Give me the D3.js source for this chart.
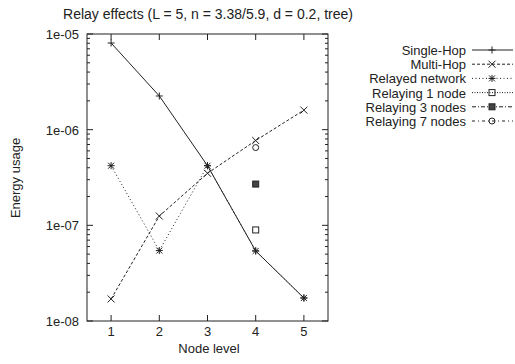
<!DOCTYPE html>
<html><head><meta charset="utf-8">
<script src="https://cdn.jsdelivr.net/npm/d3@7"></script>
<style>body{margin:0;background:#fff}svg{display:block}text{font-family:"Liberation Sans",Arial,sans-serif;fill:#222}</style>
</head><body>
<script>
const levels = [1, 2, 3, 4, 5];
const singleHop = [8.05e-6, 2.25e-6, 4.2e-7, 5.4e-8, 1.74e-8];
const multiHop = [1.7e-8, 1.25e-7, 3.5e-7, 7.7e-7, 1.6e-6];
const relayedNetwork = [4.2e-7, 5.45e-8, 4.2e-7, 5.4e-8, 1.74e-8];
const relaying1Levels = [4], relaying1 = [8.95e-8];
const relaying3Levels = [4], relaying3 = [2.7e-7];
const relaying7Levels = [4], relaying7 = [6.5e-7];
const yTickLabels = ["1e-08", "1e-07", "1e-06", "1e-05"];
const yTickValues = [1e-8, 1e-7, 1e-6, 1e-5];
const seriesNames = ["Single-Hop", "Multi-Hop", "Relayed network", "Relaying 1 node", "Relaying 3 nodes", "Relaying 7 nodes"];

const W = 515, H = 364;
const m = {l: 87, r: 328, t: 34, b: 321};
const svg = d3.select("body").append("svg").attr("width", W).attr("height", H);
const x = d3.scaleLinear().domain([0.5, 5.5]).range([m.l, m.r]);
const y = d3.scaleLog().domain([1e-8, 1e-5]).range([m.b, m.t]);
const ink = "#222";
const fs = 13;

const series = [
  {name: seriesNames[0], xs: levels, ys: singleHop, dash: null, mk: "plus"},
  {name: seriesNames[1], xs: levels, ys: multiHop, dash: "3,2", mk: "cross"},
  {name: seriesNames[2], xs: levels, ys: relayedNetwork, dash: "1,2.5", mk: "star"},
  {name: seriesNames[3], xs: relaying1Levels, ys: relaying1, dash: "1,1.5", mk: "sq"},
  {name: seriesNames[4], xs: relaying3Levels, ys: relaying3, dash: "4,2,1,2", mk: "fsq"},
  {name: seriesNames[5], xs: relaying7Levels, ys: relaying7, dash: "3,3,1,3", mk: "circ"}
];

function marker(g, mk, cx, cy) {
  const s = 3.5;
  const p = g.append("g").attr("stroke", ink).attr("stroke-width", 1).attr("fill", "none");
  if (mk === "plus" || mk === "star") {
    p.append("line").attr("x1", cx - s).attr("x2", cx + s).attr("y1", cy).attr("y2", cy);
    p.append("line").attr("x1", cx).attr("x2", cx).attr("y1", cy - s).attr("y2", cy + s);
  }
  if (mk === "cross" || mk === "star") {
    const c = mk === "star" ? 3 : 3.5;
    p.append("line").attr("x1", cx - c).attr("x2", cx + c).attr("y1", cy - c).attr("y2", cy + c);
    p.append("line").attr("x1", cx - c).attr("x2", cx + c).attr("y1", cy + c).attr("y2", cy - c);
  }
  if (mk === "sq") p.append("rect").attr("x", cx - 3).attr("y", cy - 3).attr("width", 6).attr("height", 6);
  if (mk === "fsq") p.append("rect").attr("x", cx - 3).attr("y", cy - 3).attr("width", 6).attr("height", 6).attr("fill", "#444");
  if (mk === "circ") p.append("circle").attr("cx", cx).attr("cy", cy).attr("r", 3);
}

// frame
svg.append("rect").attr("x", m.l).attr("y", m.t).attr("width", m.r - m.l).attr("height", m.b - m.t)
  .attr("fill", "none").attr("stroke", ink).attr("stroke-width", 1);

// x ticks (bottom & top)
levels.forEach(v => {
  svg.append("line").attr("x1", x(v)).attr("x2", x(v)).attr("y1", m.b).attr("y2", m.b - 6).attr("stroke", ink);
  svg.append("line").attr("x1", x(v)).attr("x2", x(v)).attr("y1", m.t).attr("y2", m.t + 6).attr("stroke", ink);
  svg.append("text").attr("x", x(v)).attr("y", 336).attr("text-anchor", "middle").attr("font-size", fs).text(v);
});
// y ticks
for (let e = -8; e < -5; e++) {
  for (let k = 2; k <= 9; k++) {
    const v = k * Math.pow(10, e);
    svg.append("line").attr("x1", m.l).attr("x2", m.l + 3).attr("y1", y(v)).attr("y2", y(v)).attr("stroke", ink);
    svg.append("line").attr("x1", m.r).attr("x2", m.r - 3).attr("y1", y(v)).attr("y2", y(v)).attr("stroke", ink);
  }
}
yTickValues.forEach((v, i) => {
  svg.append("line").attr("x1", m.l).attr("x2", m.l + 6).attr("y1", y(v)).attr("y2", y(v)).attr("stroke", ink);
  svg.append("line").attr("x1", m.r).attr("x2", m.r - 6).attr("y1", y(v)).attr("y2", y(v)).attr("stroke", ink);
  svg.append("text").attr("x", 79).attr("y", y(v) + 5).attr("text-anchor", "end").attr("font-size", fs).text(yTickLabels[i]);
});

// title and axis labels
svg.append("text").attr("x", 208).attr("y", 19).attr("text-anchor", "middle").attr("font-size", 14)
  .text("Relay effects (L = 5, n = 3.38/5.9, d = 0.2, tree)");
svg.append("text").attr("x", 209).attr("y", 353).attr("text-anchor", "middle").attr("font-size", fs).text("Node level");
svg.append("text").attr("transform", "translate(20,178) rotate(-90)").attr("text-anchor", "middle").attr("font-size", fs).text("Energy usage");

// series
const lineGen = d3.line().x(d => x(d[0])).y(d => y(d[1]));
const order = [2, 1, 0, 3, 4, 5];
order.forEach(i => {
  const s = series[i];
  const pts = s.xs.map((v, j) => [v, s.ys[j]]);
  if (pts.length > 1) svg.append("path").attr("d", lineGen(pts)).attr("fill", "none").attr("stroke", ink)
    .attr("stroke-width", 1).attr("stroke-dasharray", s.dash);
  pts.forEach(p => marker(svg, s.mk, x(p[0]), y(p[1])));
});

// legend
series.forEach((s, i) => {
  const ly = 50 + i * 14.2;
  svg.append("text").attr("x", 466).attr("y", ly + 5).attr("text-anchor", "end").attr("font-size", fs).text(s.name);
  svg.append("line").attr("x1", 472).attr("x2", 513).attr("y1", ly).attr("y2", ly).attr("stroke", ink)
    .attr("stroke-width", 1).attr("stroke-dasharray", s.dash);
  marker(svg, s.mk, 492, ly);
});
</script>
</body></html>
